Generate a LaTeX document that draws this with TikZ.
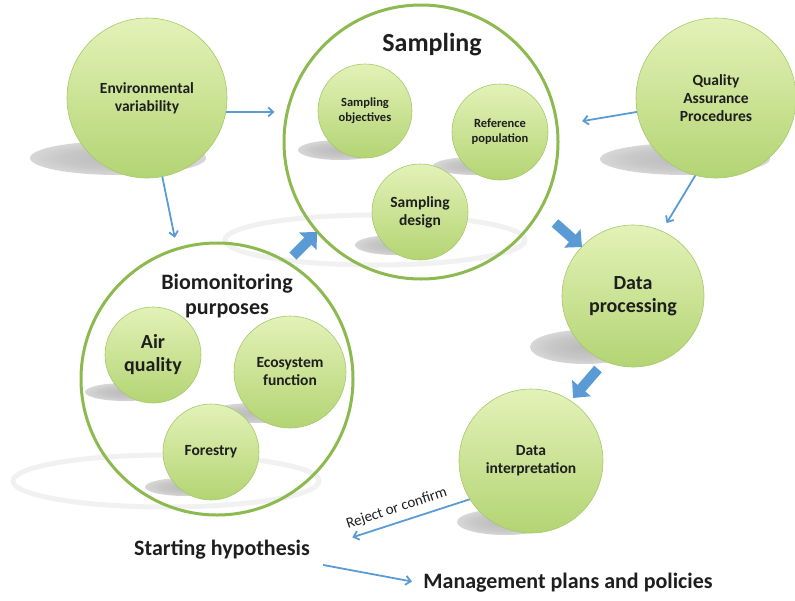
\documentclass[tikz,border=0pt]{standalone}
\usepackage{fontspec}
\setmainfont{Carlito}
\usetikzlibrary{arrows.meta}

\definecolor{balltop}{HTML}{E3F2B8}
\definecolor{ballbot}{HTML}{B3D473}
\definecolor{ballrim}{HTML}{A5C96B}
\definecolor{ringgreen}{HTML}{8DBA50}
\definecolor{linkblue}{HTML}{5B9BD5}
\definecolor{inkgray}{HTML}{1E1E1E}
\definecolor{shadowgray}{HTML}{BABABA}
\pgfdeclareradialshading{shadowfade}{\pgfpoint{0bp}{0bp}}{color(0bp)=(shadowgray);color(16bp)=(shadowgray!80!white);color(50bp)=(white)}

\tikzset{
  ball/.style={circle, draw=ballrim, line width=0.6pt, top color=balltop, bottom color=ballbot,
    inner sep=0pt, align=center, text=inkgray, font=\bfseries\fontsize{15.5}{18}\selectfont},
  ring/.style={circle, draw=ringgreen, line width=3pt, inner sep=0pt},
  halo/.style={draw=gray!11, line width=5pt},
  castshadow/.style={shading=shadowfade},
  thinarrow/.style={draw=linkblue, line width=1.8pt, -{Straight Barb[length=5pt,width=9pt]}},
  fatarrow/.style={draw=linkblue, line width=10pt, -{Triangle[length=13pt,width=24pt]}},
  heading/.style={text=inkgray, align=center, font=\bfseries\fontsize{22}{25}\selectfont},
}

\begin{document}
\begin{tikzpicture}[x=1pt,y=-1pt]

  \useasboundingbox (0,0) rectangle (795,600);

  % soft shadows and halos
  \path[castshadow] (118,158) ellipse [x radius=88pt, y radius=17pt];
  \path[castshadow] (685,159) ellipse [x radius=85pt, y radius=16pt];
  \path[castshadow] (340,150) ellipse [x radius=42pt, y radius=10pt];
  \path[castshadow] (475,166) ellipse [x radius=42pt, y radius=9pt];
  \path[castshadow] (395,245) ellipse [x radius=40pt, y radius=10pt];
  \path[castshadow] (585,347) ellipse [x radius=55pt, y radius=17pt];
  \path[castshadow] (505,522) ellipse [x radius=48pt, y radius=13pt];
  \path[castshadow] (125,392) ellipse [x radius=40pt, y radius=9pt];
  \path[castshadow] (255,413) ellipse [x radius=47pt, y radius=10pt];
  \path[castshadow] (185,487) ellipse [x radius=40pt, y radius=9pt];
  \draw[halo] (375,240) ellipse [x radius=150pt, y radius=25pt];
  \draw[halo] (166,481) ellipse [x radius=153pt, y radius=26pt];

  \node[ring, minimum size=274pt] (samp) at (421,142) {};
  \node[ring, minimum size=272pt] (bio)  at (217,379) {};

  \begin{scope}[every node/.style={ball}]
    \node[minimum size=160pt] (env)  at (147,98)  {Environmental\\variability};
    \node[minimum size=160pt] (qa)   at (716,98)  {Quality\\Assurance\\Procedures};
    \node[minimum size=94pt, font=\bfseries\fontsize{12.5}{15}\selectfont] (obj) at (365,111) {Sampling\\objectives};
    \node[minimum size=96pt, font=\bfseries\fontsize{12.5}{15}\selectfont] (ref) at (500,132) {Reference\\population};
    \node[minimum size=96pt]  (des)  at (420,212) {Sampling\\design};
    \node[minimum size=142pt, font=\bfseries\fontsize{20}{23}\selectfont] (dp) at (633,296) {Data\\processing};
    \node[minimum size=144pt] (di)   at (531,461) {Data\\interpretation};
    \node[minimum size=96pt, font=\bfseries\fontsize{20}{23}\selectfont] (air) at (153,355) {Air\\quality};
    \node[minimum size=112pt] (eco)  at (290,372) {Ecosystem\\function};
    \node[minimum size=96pt]  (for)  at (211,452) {Forestry};
  \end{scope}

  \node[heading, font=\bfseries\fontsize{26}{30}\selectfont] (samptitle) at (432,45) {Sampling};
  \node[heading] (biotitle) at (227,296) {Biomonitoring\\purposes};
  \node[heading] (hyp) at (222,550) {Starting hypothesis};
  \node[heading] (mgmt) at (568,583) {Management plans and policies};

  % connectors
  \draw[thinarrow, shorten >=8pt] (env.-10) -- (env.-10 -| samp.west);
  \draw[thinarrow, shorten >=10pt] (env.-79) -- (bio.107);
  \draw[thinarrow, shorten >=24pt] (qa.190) -- (samp.7);
  \draw[thinarrow, shorten >=9pt] (qa.-105) -- (dp.66);
  \draw[thinarrow, shorten >=41pt] (di.212) -- node[sloped, above=3pt, pos=0.44, text=inkgray,
    font=\fontsize{15}{17}\selectfont] {Reject or confirm} (hyp.east);
  \draw[thinarrow, shorten <=10pt, shorten >=8pt] (hyp.south east) -- (mgmt.west);

  \coordinate (f1) at (293,256);
  \coordinate (f2) at (317,232);
  \coordinate (f3) at (555,223);
  \coordinate (f4) at (582,247);
  \coordinate (f5) at (598,369);
  \coordinate (f6) at (573,398);
  \draw[fatarrow] (f1) -- (f2);
  \draw[fatarrow] (f3) -- (f4);
  \draw[fatarrow] (f5) -- (f6);

\end{tikzpicture}
\end{document}
